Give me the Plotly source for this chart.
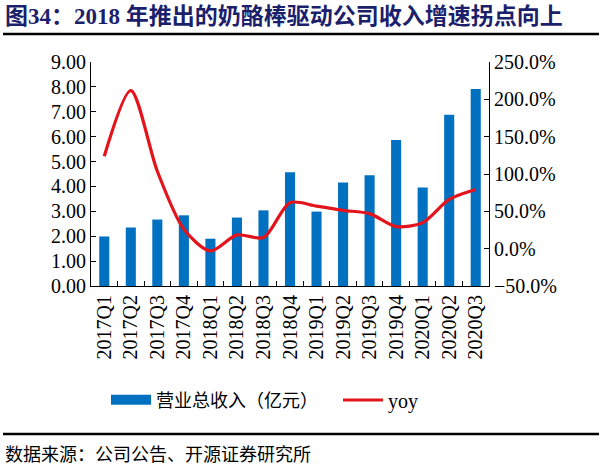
import plotly.graph_objects as go

categories = ["2017Q1", "2017Q2", "2017Q3", "2017Q4", "2018Q1", "2018Q2", "2018Q3", "2018Q4",
              "2019Q1", "2019Q2", "2019Q3", "2019Q4", "2020Q1", "2020Q2", "2020Q3"]
revenue = [1.99, 2.35, 2.67, 2.84, 1.90, 2.75, 3.04, 4.57, 2.99, 4.16, 4.45, 5.87, 3.96, 6.88, 7.92]
yoy = [1.237, 2.117, 1.037, 0.26, -0.03, 0.184, 0.149, 0.616, 0.57, 0.513, 0.469, 0.296, 0.349, 0.66, 0.793]

W, H = 603, 467
L, R, T, B = 91, 489, 62, 286

def px(x):
    return (x - L) / (R - L)

def py(y):
    return (B - y) / (B - T)

BLUE = "#0070C0"
RED = "#E3141B"

fig = go.Figure()
fig.add_trace(go.Bar(
    x=categories, y=revenue, name="营业总收入（亿元）", showlegend=False,
    marker=dict(color=BLUE, line=dict(width=0)), width=0.38, yaxis="y",
))
# legend swatch for the bars (wide rectangle like the reference)
fig.add_trace(go.Scatter(
    x=[None], y=[None], name="营业总收入（亿元）", mode="lines",
    line=dict(color=BLUE, width=12), yaxis="y", legend="legend",
))
fig.add_trace(go.Scatter(
    x=categories, y=yoy, name="yoy", mode="lines",
    line=dict(color=RED, width=3.2, shape="spline", smoothing=0.8), yaxis="y2",
    legend="legend2",
))

tickfont = dict(family="Liberation Serif, Times New Roman, serif", size=20, color="#000")
legfont = dict(family="Noto Sans CJK SC, Liberation Serif", size=18, color="#000")

fig.update_layout(
    width=W, height=H,
    margin=dict(l=L, r=W - R, t=T, b=H - B, pad=0),
    paper_bgcolor="white", plot_bgcolor="white",
    showlegend=True,
    legend=dict(orientation="h", x=px(106), xanchor="left", y=py(400), yanchor="middle",
                font=legfont, itemwidth=40, bgcolor="rgba(0,0,0,0)"),
    legend2=dict(orientation="h", x=px(338), xanchor="left", y=py(400), yanchor="middle",
                 font=dict(family="Liberation Serif, serif", size=20, color="#000"),
                 itemwidth=40, bgcolor="rgba(0,0,0,0)"),
    xaxis=dict(type="category", tickangle=-90, tickfont=tickfont,
               showline=True, linecolor="#000", linewidth=1,
               ticks="inside", tickson="boundaries", ticklen=5, tickcolor="#000",
               showgrid=False, zeroline=False),
    yaxis=dict(range=[0, 9], dtick=1, tickformat=".2f", tickfont=tickfont,
               showline=True, linecolor="#000", linewidth=1,
               ticks="inside", ticklen=5, tickcolor="#000",
               showgrid=False, zeroline=False),
    yaxis2=dict(range=[-0.5, 2.5], dtick=0.5, tickformat=".1%", tickfont=tickfont,
                overlaying="y", side="right",
                showline=True, linecolor="#000", linewidth=1,
                ticks="inside", ticklen=5, tickcolor="#000",
                showgrid=False, zeroline=False),
    bargap=0.6,
)

fig.add_annotation(
    text="<b>图34：2018 年推出的奶酪棒驱动公司收入增速拐点向上</b>",
    xref="paper", yref="paper", x=px(3), y=py(17), xanchor="left", yanchor="middle",
    showarrow=False, font=dict(family="Liberation Serif, Noto Sans CJK SC", size=23, color="#1C1F6B"),
)
fig.add_annotation(
    text="数据来源：公司公告、开源证券研究所",
    xref="paper", yref="paper", x=px(3), y=py(453), xanchor="left", yanchor="middle",
    showarrow=False, font=dict(family="Noto Sans CJK SC", size=18, color="#000"),
)
fig.add_shape(type="line", xref="paper", yref="paper",
              x0=px(3), x1=px(599), y0=py(34), y1=py(34), line=dict(color="#000", width=2.5))
fig.add_shape(type="line", xref="paper", yref="paper",
              x0=px(3), x1=px(599), y0=py(434), y1=py(434), line=dict(color="#000", width=2.5))

fig.write_html("out.html", config={"displayModeBar": False},
               post_script="document.body.style.margin='0px';document.body.style.overflow='hidden';")
